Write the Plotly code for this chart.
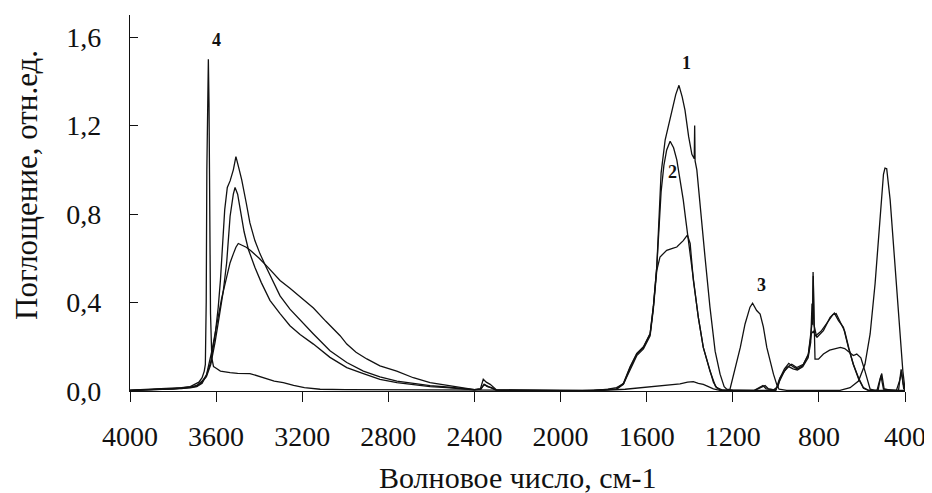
import plotly.graph_objects as go

# ---------------- data (wavenumber, cm-1 / absorbance, rel. units) ----------------
wn1 = [4000, 3950, 3900, 3850, 3800, 3760, 3720, 3690, 3665, 3645, 3625, 3605, 3590, 3580, 3570,
       3560, 3548, 3535, 3520, 3508, 3495, 3481, 3460, 3443, 3420, 3396, 3370, 3336, 3303, 3257,
       3210, 3148, 3071, 2993, 2916, 2839, 2760, 2684, 2606, 2529, 2460, 2400, 2370, 2355, 2340,
       2320, 2300, 2200, 2100, 2000, 1900, 1848, 1780, 1739, 1708, 1677, 1646, 1615, 1584, 1569,
       1553, 1545, 1533, 1514, 1495, 1483, 1465, 1450, 1435, 1422, 1405, 1390, 1379, 1377, 1375,
       1367, 1352, 1329, 1306, 1282, 1259, 1240, 1228, 1200, 1100, 1065, 1050, 1035, 1010, 990,
       980, 949, 926, 903, 872, 849, 833, 829, 826, 823, 810, 779, 748, 728, 709, 686, 663, 640,
       616, 593, 570, 530, 520, 508, 497, 470, 430, 418, 408, 400]
abs1 = [0.002, 0.005, 0.006, 0.008, 0.009, 0.012, 0.018, 0.025, 0.045, 0.07, 0.13, 0.25, 0.38, 0.5, 0.68,
        0.82, 0.92, 0.95, 1.0, 1.06, 1.01, 0.955, 0.85, 0.76, 0.68, 0.62, 0.565, 0.5, 0.43, 0.37,
        0.32, 0.258, 0.182, 0.129, 0.09, 0.064, 0.045, 0.033, 0.024, 0.018, 0.01, 0.006, 0.01, 0.03, 0.02,
        0.015, 0.005, 0.003, 0.003, 0.002, 0.002, 0.003, 0.005, 0.008, 0.03, 0.106, 0.167, 0.197, 0.258, 0.38,
        0.56, 0.76, 0.985, 1.136, 1.22, 1.27, 1.34, 1.382, 1.33, 1.27, 1.15, 1.07, 1.05, 1.2, 1.04,
        1.0, 0.833, 0.606, 0.379, 0.18, 0.076, 0.02, 0.008, 0.003, 0.002, 0.02, 0.025, 0.01, 0.005, 0.02,
        0.06, 0.106, 0.121, 0.106, 0.121, 0.167, 0.28, 0.33, 0.52, 0.30, 0.242, 0.273, 0.333, 0.352, 0.318, 0.288, 0.197, 0.121,
        0.06, 0.015, 0.003, 0.003, 0.04, 0.079, 0.01, 0.003, 0.003, 0.098, 0.03, 0.01]

wn2 = [4000, 3950, 3900, 3850, 3800, 3760, 3720, 3690, 3665, 3645, 3625, 3605, 3585, 3567, 3551,
       3535, 3520, 3512, 3500, 3485, 3470, 3450, 3420, 3390, 3350, 3303, 3257, 3210, 3148, 3071,
       2993, 2916, 2839, 2760, 2684, 2606, 2529, 2460, 2400, 2370, 2355, 2335, 2300, 2200, 2000,
       1848, 1780, 1740, 1708, 1677, 1646, 1615, 1584, 1569, 1553, 1545, 1533, 1520, 1507, 1491,
       1475, 1460, 1445, 1430, 1418, 1406, 1383, 1360, 1337, 1306, 1290, 1275, 1250, 1100, 1060,
       1045, 1000, 985, 960, 940, 920, 900, 875, 850, 835, 826, 815, 790, 760, 735, 720, 700, 680,
       660, 640, 616, 593, 570, 525, 512, 500, 440, 424, 416, 406, 400]
abs2 = [0.003, 0.004, 0.007, 0.006, 0.01, 0.011, 0.016, 0.022, 0.04, 0.065, 0.12, 0.22, 0.34, 0.45, 0.58,
        0.79, 0.89, 0.92, 0.89, 0.8, 0.72, 0.64, 0.56, 0.49, 0.41, 0.35, 0.295, 0.255, 0.212, 0.152,
        0.106, 0.079, 0.053, 0.038, 0.028, 0.02, 0.015, 0.008, 0.005, 0.008, 0.03, 0.02, 0.004, 0.002, 0.003,
        0.002, 0.006, 0.01, 0.035, 0.11, 0.17, 0.2, 0.26, 0.38, 0.56, 0.72, 0.9, 1.02, 1.09, 1.129,
        1.1, 1.045, 0.96, 0.864, 0.77, 0.68, 0.5, 0.333, 0.197, 0.09, 0.04, 0.015, 0.005, 0.003, 0.025,
        0.01, 0.005, 0.05, 0.1, 0.125, 0.11, 0.1, 0.115, 0.16, 0.26, 0.27, 0.25, 0.27, 0.31, 0.345, 0.35, 0.31, 0.27,
        0.19, 0.12, 0.055, 0.012, 0.003, 0.003, 0.07, 0.008, 0.003, 0.05, 0.085, 0.01, 0.005]

wn3 = [4000, 3950, 3900, 3850, 3800, 3760, 3720, 3690, 3665, 3644, 3620, 3597, 3574, 3551, 3535,
       3520, 3508, 3497, 3480, 3460, 3440, 3400, 3360, 3330, 3303, 3257, 3210, 3148, 3090, 3024,
       2993, 2950, 2900, 2839, 2761, 2684, 2606, 2529, 2460, 2400, 2372, 2359, 2345, 2327, 2296,
       2100, 1900, 1848, 1780, 1740, 1708, 1677, 1646, 1615, 1584, 1569, 1553, 1538, 1507, 1480,
       1460, 1430, 1411, 1398, 1390, 1383, 1360, 1337, 1306, 1280, 1260, 1230, 1213, 1190, 1165,
       1143, 1120, 1108, 1100, 1089, 1073, 1058, 1042, 1027, 1011, 996, 985, 950, 800, 702, 655,
       616, 586, 562, 539, 516, 500, 493, 485, 469, 451, 438, 423, 410, 400]
abs3 = [0.003, 0.005, 0.005, 0.007, 0.008, 0.01, 0.014, 0.02, 0.035, 0.076, 0.18, 0.3, 0.42, 0.515, 0.58,
        0.62, 0.65, 0.667, 0.66, 0.65, 0.635, 0.6, 0.56, 0.53, 0.5, 0.465, 0.425, 0.375, 0.315, 0.25,
        0.212, 0.175, 0.145, 0.114, 0.09, 0.06, 0.038, 0.026, 0.014, 0.006, 0.01, 0.053, 0.04, 0.03, 0.004,
        0.003, 0.002, 0.002, 0.008, 0.015, 0.032, 0.1, 0.16, 0.19, 0.25, 0.37, 0.545, 0.606, 0.636, 0.645,
        0.651, 0.68, 0.705, 0.667, 0.58, 0.5, 0.333, 0.197, 0.09, 0.02, 0.005, 0.003, 0.008, 0.1, 0.197,
        0.303, 0.379, 0.397, 0.385, 0.364, 0.348, 0.29, 0.197, 0.136, 0.076, 0.03, 0.008, 0.003, 0.002, 0.003, 0.015,
        0.045, 0.121, 0.258, 0.485, 0.788, 0.98, 1.008, 1.005, 0.864, 0.636, 0.44, 0.242, 0.09, 0.008]

wn4 = [4000, 3950, 3900, 3850, 3800, 3760, 3720, 3700, 3680, 3665, 3655, 3650, 3646, 3643, 3641,
       3639, 3636, 3633, 3630, 3626, 3620, 3612, 3605, 3580, 3535, 3500, 3443, 3410, 3381, 3330,
       3288, 3240, 3190, 3117, 3000, 2800, 2600, 2400, 2000, 1800, 1700, 1631, 1580, 1538, 1491,
       1445, 1410, 1383, 1360, 1337, 1321, 1290, 1260, 1100, 1000, 985, 960, 940, 920, 900, 875,
       850, 838, 832, 830, 827, 824, 818, 802, 779, 750, 732, 700, 680, 663, 640, 624, 605, 586,
       570, 562, 540, 400]
abs4 = [0.004, 0.006, 0.008, 0.01, 0.012, 0.015, 0.02, 0.03, 0.04, 0.06, 0.09, 0.12, 0.4, 1.0, 1.25,
        1.1, 1.5, 1.3, 0.8, 0.35, 0.15, 0.11, 0.106, 0.09, 0.083, 0.08, 0.079, 0.07, 0.06, 0.045,
        0.038, 0.025, 0.015, 0.008, 0.006, 0.005, 0.004, 0.003, 0.002, 0.003, 0.008, 0.015, 0.02, 0.023, 0.03,
        0.032, 0.04, 0.042, 0.035, 0.03, 0.023, 0.01, 0.003, 0.002, 0.003, 0.04, 0.09, 0.11, 0.1, 0.095, 0.11,
        0.15, 0.22, 0.395, 0.30, 0.538, 0.35, 0.144, 0.144, 0.167, 0.185, 0.19, 0.197, 0.192, 0.18, 0.16, 0.167, 0.15, 0.09,
        0.03, 0.008, 0.003, 0.003]

series_wn = [wn1, wn2, wn3, wn4]
series_abs = [abs1, abs2, abs3, abs4]
series_names = ["1", "2", "3", "4"]

label_text = ["1", "2", "3", "4"]
label_wn = [1417, 1482, 1066, 3597]
label_abs = [1.483, 0.99, 0.48, 1.587]

x_ticks = [4000, 3600, 3200, 2800, 2400, 2000, 1600, 1200, 800, 400]
y_ticks = [0.0, 0.4, 0.8, 1.2, 1.6]
y_ticktext = ["0,0", "0,4", "0,8", "1,2", "1,6"]

x_title = "Волновое число, см-1"
y_title = "Поглощение, отн.ед."

# ---------------- figure ----------------
SERIF = "Liberation Serif, Times New Roman, serif"
INK = "#111111"
fig = go.Figure()
for w, a, n in zip(series_wn, series_abs, series_names):
    fig.add_trace(go.Scatter(x=w, y=a, mode="lines", name=n, showlegend=False,
                             line=dict(color=INK, width=1.3)))

for t, w, a in zip(label_text, label_wn, label_abs):
    fig.add_annotation(x=w, y=a, text="<b>" + t + "</b>", showarrow=False,
                       font=dict(family=SERIF, size=18, color=INK))

fig.add_annotation(xref="paper", yref="paper", x=0.5, y=-0.229, text=x_title, showarrow=False,
                   font=dict(family=SERIF, size=30, color=INK), yanchor="middle")
fig.add_annotation(xref="paper", yref="paper", x=-0.133, y=0.548, text=y_title, showarrow=False,
                   textangle=-90, font=dict(family=SERIF, size=31, color=INK), xanchor="center")

fig.update_layout(
    width=932, height=493,
    margin=dict(l=122, r=35, t=7, b=110),
    paper_bgcolor="white", plot_bgcolor="white",
    font=dict(family=SERIF, size=28, color=INK),
)
fig.update_xaxes(range=[4000, 400], tickvals=x_ticks, ticktext=[str(v) for v in x_ticks],
                 ticks="outside", ticklen=10, tickwidth=1.2, tickcolor=INK,
                 showline=True, linecolor=INK, linewidth=1.3,
                 showgrid=False, zeroline=False, ticklabelstandoff=10,
                 tickfont=dict(family=SERIF, size=28, color=INK))
fig.update_yaxes(range=[0, 1.7], tickvals=y_ticks, ticktext=y_ticktext,
                 ticks="inside", ticklen=8, tickwidth=1.2, tickcolor=INK,
                 showline=True, linecolor=INK, linewidth=1.3,
                 showgrid=False, zeroline=False, ticklabelstandoff=22,
                 tickfont=dict(family=SERIF, size=28, color=INK))

fig.write_html("out.html")
